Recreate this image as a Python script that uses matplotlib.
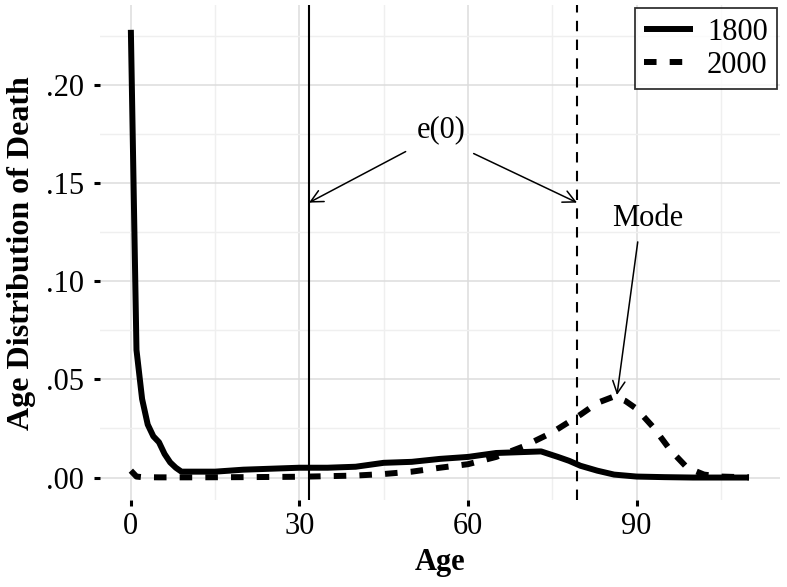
import numpy as np
import matplotlib
matplotlib.use("Agg")
import matplotlib.pyplot as plt

# age distribution of death
ages_1800 = [0, 1, 2, 3, 4, 5, 6, 7, 8, 9, 10, 15, 20, 25, 30, 35, 40, 45, 50,
             55, 60, 65, 70, 73, 76, 78, 80, 83, 86, 90, 95, 100, 110]
dx_1800 = [0.228, 0.065, 0.040, 0.027, 0.021, 0.018, 0.012, 0.0077, 0.005, 0.003,
           0.003, 0.003, 0.004, 0.0045, 0.005, 0.005, 0.0055, 0.0075, 0.008,
           0.0095, 0.0105, 0.0125, 0.013, 0.0133, 0.0105, 0.0085, 0.006, 0.0035,
           0.0015, 0.0005, 0.0002, 0.0, 0.0]

ages_2000 = [0, 1, 2, 5, 10, 20, 30, 40, 45, 50, 55, 60, 65, 70, 75, 80, 83, 86,
             88, 90, 93, 96, 99, 102, 105, 110]
dx_2000 = [0.0035, 0.0005, 0.0002, 0.0001, 0.0001, 0.0002, 0.0004, 0.001, 0.0018,
           0.003, 0.005, 0.0068, 0.0105, 0.016, 0.023, 0.032, 0.038, 0.0413,
           0.039, 0.035, 0.0255, 0.014, 0.005, 0.0015, 0.0005, 0.0001]

e0_1800 = 31.7
e0_2000 = 79.4
mode_2000 = (86.5, 0.042)

plt.rcParams['font.family'] = ['Liberation Serif', 'DejaVu Serif']

fig = plt.figure(figsize=(7.87, 5.87), dpi=100)
ax = fig.add_axes([0.127, 0.148, 0.864, 0.843])

ax.plot(ages_1800, dx_1800, color='black', lw=4.3, solid_capstyle='butt', label='1800')
ax.plot(ages_2000, dx_2000, color='black', lw=4.3, linestyle=(0, (2.1, 2.2)),
        dash_capstyle='butt', label='2000')

ax.axvline(e0_1800, color='black', lw=1.5)
ax.axvline(e0_2000, color='black', lw=1.5, linestyle=(0, (5, 4)))

arrow = dict(arrowstyle='->', lw=1.1, color='black', mutation_scale=22, shrinkA=0, shrinkB=0)
ax.text(55.2, 0.177, 'e(0)', ha='center', va='center', fontsize=22)
ax.annotate('', xy=(e0_1800, 0.140), xytext=(48.9, 0.166), arrowprops=arrow)
ax.annotate('', xy=(e0_2000, 0.140), xytext=(61.0, 0.165), arrowprops=arrow)
ax.text(92.0, 0.132, 'Mode', ha='center', va='center', fontsize=22)
ax.annotate('', xy=mode_2000, xytext=(90.2, 0.120), arrowprops=arrow)

ax.set_xlim(-5.5, 115.5)
ax.set_ylim(-0.0115, 0.2405)
ax.set_xticks([0, 30, 60, 90])
ax.set_xticks([15, 45, 75, 105], minor=True)
ax.set_yticks([0, 0.05, 0.10, 0.15, 0.20])
ax.set_yticklabels(['.00', '.05', '.10', '.15', '.20'])
ax.set_yticks([0.025, 0.075, 0.125, 0.175, 0.225], minor=True)

ax.grid(which='major', color='#dcdcdc', lw=1.1)
ax.grid(which='minor', color='#efefef', lw=1.0)
ax.set_axisbelow(True)
for s in ax.spines.values():
    s.set_visible(False)

ax.tick_params(axis='both', which='major', length=4.5, width=2.2, labelsize=22, color='black')
ax.tick_params(axis='y', pad=7)
ax.tick_params(axis='x', pad=4)
ax.tick_params(which='minor', length=0)

ax.set_xlabel('Age', fontsize=22, fontweight='bold', labelpad=5)
ax.set_ylabel('Age Distribution of Death', fontsize=23, fontweight='bold', labelpad=7)

leg = ax.legend(loc='upper right', fontsize=22, frameon=True, fancybox=False,
                handlelength=1.6, handletextpad=0.45, borderpad=0.3, labelspacing=0.15,
                borderaxespad=0.1, edgecolor='black')
leg.get_frame().set_linewidth(1.3)

fig.savefig('out.png', dpi=100)
